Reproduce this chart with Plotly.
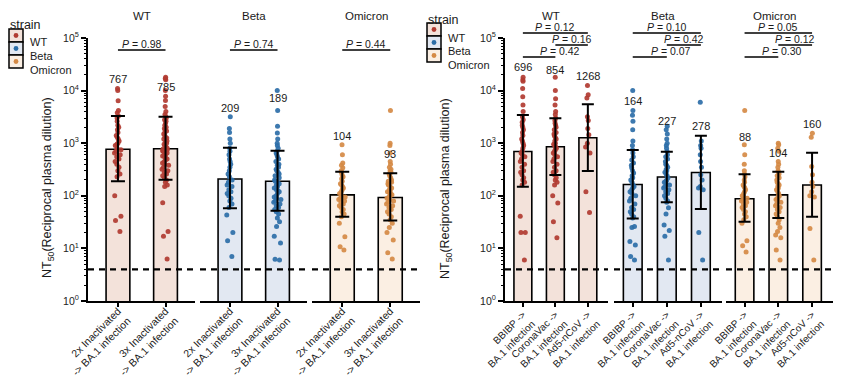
import plotly.graph_objects as go

W, H = 849, 377
FONT = "Liberation Sans, Arial, Helvetica, sans-serif"

# ---------------- data ----------------
strains = ["WT", "Beta", "Omicron"]
left_cats = ["2x Inactivated<br>-> BA.1 infection", "3x Inactivated<br>-> BA.1 infection"]
right_cats = ["BBIBP -><br>BA.1 infection", "CoronaVac -><br>BA.1 infection", "Ad5-nCoV -><br>BA.1 infection"]

left_wt_gmt = [767, 785]
left_wt_lo = [189, 203]
left_wt_hi = [3290, 3190]
left_beta_gmt = [209, 189]
left_beta_lo = [58, 52]
left_beta_hi = [822, 720]
left_omi_gmt = [104, 93]
left_omi_lo = [40, 34]
left_omi_hi = [288, 268]

right_wt_gmt = [696, 854, 1268]
right_wt_lo = [149, 248, 296]
right_wt_hi = [3440, 2970, 5490]
right_beta_gmt = [164, 227, 278]
right_beta_lo = [37, 75, 56]
right_beta_hi = [743, 690, 1390]
right_omi_gmt = [88, 104, 160]
right_omi_lo = [32, 38, 40]
right_omi_hi = [256, 288, 660]

left_p = ["0.98", "0.74", "0.44"]
right_p_wt = ["0.12", "0.16", "0.42"]
right_p_beta = ["0.10", "0.42", "0.07"]
right_p_omi = ["0.05", "0.12", "0.30"]

wt_2x = [11000, 10000, 6400, 4200, 3800, 3300, 3000, 2600, 2200, 2000, 1800, 1600, 1400, 1300,
         1200, 1100, 1000, 950, 900, 800, 750, 700, 650, 600, 550, 500, 450, 400, 350, 300, 260,
         230, 100, 41, 34, 21]
wt_3x = [18000, 17000, 16000, 10000, 7800, 6500, 5000, 4000, 3500, 3200, 3000, 2800, 2600, 2400,
         2200, 2000, 1900, 1800, 1700, 1600, 1500, 1400, 1300, 1250, 1200, 1100, 1050, 1000, 950,
         900, 850, 800, 780, 750, 720, 700, 680, 650, 620, 600, 570, 550, 520, 500, 480, 450, 420,
         400, 380, 350, 320, 300, 280, 260, 240, 220, 200, 180, 160, 150, 74, 21, 17, 6.3]
beta_2x = [3200, 1900, 1600, 1200, 1000, 800, 700, 600, 500, 450, 400, 350, 300, 260, 230, 200,
           180, 160, 150, 130, 120, 110, 100, 90, 80, 70, 60, 43, 20, 14, 7]
beta_3x = [10000, 4200, 2100, 1560, 1200, 1000, 900, 800, 700, 650, 600, 550, 500, 450, 400, 380,
           350, 320, 300, 280, 260, 240, 220, 200, 190, 180, 170, 160, 150, 140, 130, 125, 120,
           110, 100, 95, 90, 85, 80, 75, 70, 65, 60, 55, 50, 45, 38, 32, 26, 17, 12.6, 6.2, 6]
omi_2x = [930, 600, 420, 380, 340, 300, 280, 250, 230, 210, 190, 170, 160, 150, 140, 130, 120,
          110, 100, 95, 90, 85, 80, 75, 70, 65, 60, 55, 50, 45, 40, 30, 16.6, 10.8, 9.3]
omi_3x = [4200, 1000, 900, 650, 450, 400, 350, 320, 300, 280, 260, 240, 220, 200, 190, 180, 170,
          160, 150, 140, 130, 125, 120, 115, 110, 105, 100, 95, 90, 85, 80, 75, 70, 65, 60, 55,
          50, 45, 40, 35, 30, 25, 20, 14.5, 8.3, 6.3]

wt_bbibp = [18000, 16000, 15000, 11000, 7600, 5300, 4000, 3200, 2800, 2500, 2200, 2000, 1800,
            1600, 1400, 1200, 1100, 1000, 900, 800, 700, 650, 600, 550, 500, 450, 400, 350, 300,
            280, 250, 220, 200, 180, 160, 41, 20, 20, 6]
wt_coronavac = [18000, 10000, 7000, 5300, 4000, 3500, 3000, 2700, 2400, 2200, 2000, 1800, 1600,
                1500, 1400, 1300, 1200, 1100, 1000, 950, 900, 850, 800, 750, 700, 650, 600, 550,
                500, 450, 400, 350, 300, 280, 250, 220, 200, 180, 160, 100, 73, 32, 16]
wt_ad5 = [12500, 8300, 7200, 3200, 2700, 1900, 1450, 1000, 850, 650, 120, 48]
beta_bbibp = [10000, 4200, 3400, 2600, 1800, 1100, 900, 750, 650, 550, 480, 420, 380, 340, 300,
              270, 240, 220, 200, 180, 160, 150, 140, 130, 120, 110, 100, 90, 80, 70, 60, 55, 50,
              45, 40, 38, 26, 25, 13.5, 11.6, 7, 6]
beta_coronavac = [2100, 1800, 1500, 1200, 1000, 900, 800, 700, 600, 550, 500, 450, 400, 380, 350,
                  320, 300, 280, 260, 240, 220, 200, 190, 180, 170, 160, 150, 140, 130, 120, 110,
                  100, 90, 80, 75, 59, 45, 28, 22, 17, 6]
beta_ad5 = [6000, 1100, 900, 800, 600, 450, 350, 250, 200, 150, 140, 130, 20, 6]
omi_bbibp = [4200, 930, 600, 400, 300, 260, 230, 200, 180, 160, 150, 140, 130, 120, 110, 100, 95,
             90, 85, 80, 75, 70, 65, 60, 55, 50, 45, 40, 35, 30, 14, 11.2, 8.5]
omi_coronavac = [1000, 930, 800, 700, 450, 400, 350, 300, 280, 260, 240, 220, 200, 180, 170, 160,
                 150, 140, 130, 120, 110, 100, 95, 90, 85, 80, 75, 70, 65, 60, 55, 50, 45, 40, 35,
                 30, 25, 21, 18, 16, 9.3, 6]
omi_ad5 = [1550, 1300, 360, 250, 180, 150, 120, 100, 95, 24, 6]

detection_limit = 4
y_tickvals = [1, 10, 100, 1000, 10000, 100000]
y_ticktext = ["10<sup>0</sup>", "10<sup>1</sup>", "10<sup>2</sup>", "10<sup>3</sup>",
              "10<sup>4</sup>", "10<sup>5</sup>"]

# ---------------- styling / layout helpers ----------------
dot_colors = ["#b13b31", "#2c6ea8", "#d58a45"]
fill_colors = ["#f3e2da", "#e2e8f2", "#fbefe3"]
left_label_y = [[4.22, 4.07], [3.67, 3.86], [3.14, 2.79]]
right_label_y = [[4.45, 4.39, 4.28], [3.81, 3.43, 3.33], [3.12, 2.82, 3.37]]


def pxx(x):
    return x / W


def pyy(y):
    return 1 - y / H


LEFT_RANGE = [-0.63, 1.62]
RIGHT_RANGE = [-0.55, 2.62]

panels = [
    (1, "y", (88, 195), left_cats, LEFT_RANGE, left_wt_gmt, left_wt_lo, left_wt_hi, [wt_2x, wt_3x], 0),
    (2, "y", (200, 307), left_cats, LEFT_RANGE, left_beta_gmt, left_beta_lo, left_beta_hi, [beta_2x, beta_3x], 1),
    (3, "y", (312, 420), left_cats, LEFT_RANGE, left_omi_gmt, left_omi_lo, left_omi_hi, [omi_2x, omi_3x], 2),
    (4, "y2", (505, 608), right_cats, RIGHT_RANGE, right_wt_gmt, right_wt_lo, right_wt_hi,
     [wt_bbibp, wt_coronavac, wt_ad5], 0),
    (5, "y2", (614, 722), right_cats, RIGHT_RANGE, right_beta_gmt, right_beta_lo, right_beta_hi,
     [beta_bbibp, beta_coronavac, beta_ad5], 1),
    (6, "y2", (726, 833), right_cats, RIGHT_RANGE, right_omi_gmt, right_omi_lo, right_omi_hi,
     [omi_bbibp, omi_coronavac, omi_ad5], 2),
]

fig = go.Figure()
layout = dict(
    width=W, height=H, autosize=False,
    margin=dict(l=0, r=0, t=0, b=0, pad=0),
    paper_bgcolor="white", plot_bgcolor="white",
    showlegend=False, barmode="overlay", boxmode="overlay",
    font=dict(family=FONT, color="#1a1a1a"),
)
shapes = []
annotations = []

minor_vals = [m * 10 ** k for k in range(0, 5) for m in range(2, 10)]
ydom = [pyy(301), pyy(38)]
for yname, anchor in (("yaxis", "x"), ("yaxis2", "x4")):
    layout[yname] = dict(
        domain=ydom, anchor=anchor, type="log", range=[0, 5], automargin=False,
        tickmode="array", tickvals=y_tickvals, ticktext=y_ticktext,
        tickfont=dict(size=10.5, color="#222"),
        ticks="outside", ticklen=5, tickwidth=1.5, tickcolor="black",
        minor=dict(tickmode="array", tickvals=minor_vals, ticks="outside", ticklen=2.5,
                   tickwidth=1, tickcolor="black", showgrid=False),
        showline=True, linecolor="black", linewidth=2,
        showgrid=False, zeroline=False, fixedrange=True,
    )

for idx, yref, (d0, d1), cats, rng, gmt, lo, hi, pts, si in panels:
    xname = "x" if idx == 1 else f"x{idx}"
    xkey = "xaxis" if idx == 1 else f"xaxis{idx}"
    right = idx > 3
    layout[xkey] = dict(
        domain=[pxx(d0), pxx(d1)], anchor=yref, type="category", automargin=False,
        categoryorder="array", categoryarray=cats, range=rng,
        showline=True, linecolor="black", linewidth=2,
        ticks="outside", ticklen=4, tickwidth=1.5, tickcolor="black",
        tickangle=-45, tickfont=dict(size=10 if right else 10.5, color="#222"),
        ticklabelstandoff=-2 if right else -6,
        showgrid=False, zeroline=False, fixedrange=True,
    )
    fig.add_trace(go.Bar(
        x=cats, y=gmt, xaxis=xname, yaxis=yref, width=0.55 if right else 0.5,
        marker=dict(color=fill_colors[si], line=dict(color="black", width=1.6)),
        hoverinfo="skip",
    ))
    for ci, vals in enumerate(pts):
        fig.add_trace(go.Box(
            x=[cats[ci]] * len(vals), y=vals, xaxis=xname, yaxis=yref,
            boxpoints="all", jitter=0.4 if right else 0.33, pointpos=0,
            fillcolor="rgba(0,0,0,0)", line=dict(color="rgba(0,0,0,0)", width=0),
            whiskerwidth=0,
            marker=dict(color=dot_colors[si], size=5, opacity=0.92),
        ))
    fig.add_trace(go.Scatter(
        x=cats, y=gmt, xaxis=xname, yaxis=yref, mode="markers",
        marker=dict(color="rgba(0,0,0,0)", size=1),
        error_y=dict(type="data", symmetric=False,
                     array=[h - g for h, g in zip(hi, gmt)],
                     arrayminus=[g - l for g, l in zip(gmt, lo)],
                     color="black", thickness=2, width=6 if right else 7),
        hoverinfo="skip",
    ))
    shapes.append(dict(type="line", xref=f"{xname} domain", yref=yref, x0=0, x1=1,
                       y0=detection_limit, y1=detection_limit,
                       line=dict(color="black", width=2.2, dash="6px,5px")))
    annotations.append(dict(text=strains[si], xref=f"{xname} domain", yref="paper",
                            x=0.45 if right else 0.5, y=pyy(9), showarrow=False, borderpad=0,
                            font=dict(size=11.5, color="#1a1a1a")))
    lab_y = right_label_y[si] if right else left_label_y[si]
    for ci, g in enumerate(gmt):
        annotations.append(dict(text=str(g), xref=xname, yref=yref, x=ci, y=lab_y[ci],
                                showarrow=False, font=dict(size=11, color="#1a1a1a")))

    def frac(u, r=rng):
        return (u - r[0]) / (r[1] - r[0])

    if not right:
        brackets = [(0, 1, 50, left_p[si])]
    else:
        ps = [right_p_wt, right_p_beta, right_p_omi][si]
        brackets = [(0, 2, 33, ps[0]), (1, 2, 45, ps[1]), (0, 1, 57, ps[2])]
    for a, b, ypx, ptxt in brackets:
        shapes.append(dict(type="line", xref=f"{xname} domain", yref="paper",
                           x0=frac(a), x1=frac(b), y0=pyy(ypx), y1=pyy(ypx),
                           line=dict(color="black", width=1.5)))
        annotations.append(dict(text=f"<i>P</i> = {ptxt}", xref=f"{xname} domain", yref="paper",
                                x=(frac(a) + frac(b)) / 2, y=pyy(ypx - 6), yanchor="middle",
                                borderpad=0, showarrow=False,
                                font=dict(size=10.5, color="#1a1a1a")))

for xc in (38, 446):
    annotations.append(dict(text="NT<sub>50</sub>(Reciprocal plasma dilution)", xref="paper",
                            yref="paper", x=pxx(xc), y=pyy(188), textangle=-90, showarrow=False,
                            font=dict(size=12.5, color="#1a1a1a")))

for (lx, ty, rows, tx, tys) in ((9, 16, [29, 42, 55, 68], 28, [34, 48, 62]),
                                 (427, 11, [23, 36, 49, 62], 446, [30, 43, 57])):
    annotations.append(dict(text="strain", xref="paper", yref="paper", x=pxx(lx - 1), y=pyy(ty),
                            xanchor="left", showarrow=False, font=dict(size=12.5, color="#1a1a1a")))
    for i in range(3):
        shapes.append(dict(type="rect", xref="paper", yref="paper",
                           x0=pxx(lx), x1=pxx(lx + 14), y0=pyy(rows[i + 1]), y1=pyy(rows[i]),
                           fillcolor=fill_colors[i], line=dict(color="black", width=1.5)))
        cy = (rows[i] + rows[i + 1]) / 2
        shapes.append(dict(type="circle", xref="paper", yref="paper",
                           x0=pxx(lx + 4.6), x1=pxx(lx + 9.4), y0=pyy(cy + 2.4), y1=pyy(cy - 2.4),
                           fillcolor=dot_colors[i], line=dict(width=0)))
        annotations.append(dict(text=strains[i], xref="paper", yref="paper", x=pxx(tx),
                                y=pyy(tys[i]), xanchor="left", showarrow=False,
                                font=dict(size=11, color="#1a1a1a")))

layout["shapes"] = shapes
layout["annotations"] = annotations
fig.update_layout(**layout)
fig.write_html(
    "out.html",
    config={"displayModeBar": False},
    post_script="document.body.style.margin='0px';document.body.style.padding='0px';"
                "document.documentElement.style.overflow='hidden';",
)
